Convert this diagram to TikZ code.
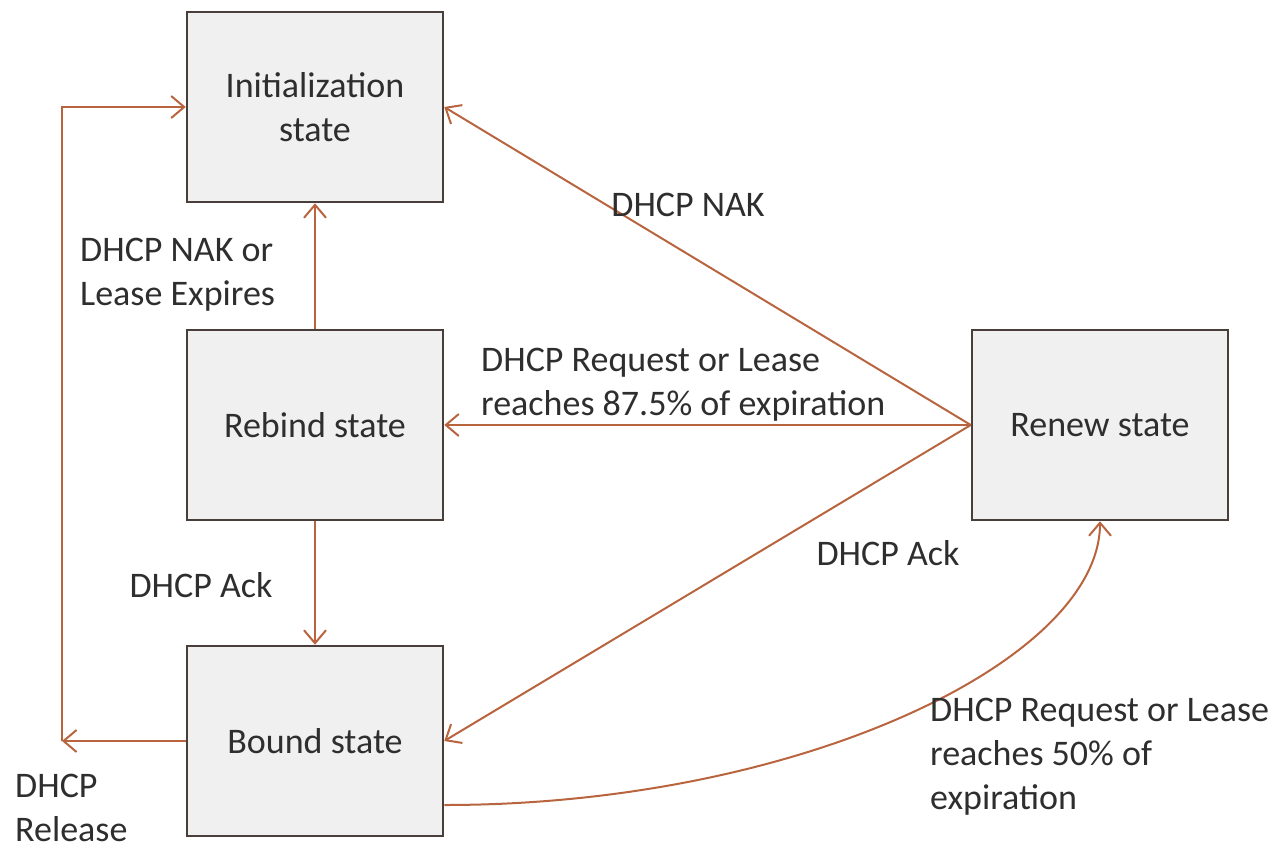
\documentclass[tikz,border=0pt]{standalone}
\usepackage{fontspec}
\setmainfont{Carlito}
\usetikzlibrary{arrows.meta}
\definecolor{arrowc}{HTML}{B8653F}
\definecolor{boxborder}{HTML}{4A3E3A}
\definecolor{boxfill}{HTML}{F0F0F1}
\definecolor{txt}{HTML}{2E2E2E}
\begin{document}
\begin{tikzpicture}[x=1pt,y=-1pt,
  statebox/.style={draw=boxborder, fill=boxfill, line width=2.5pt, minimum width=256pt, minimum height=190pt, inner sep=0pt, align=center, text=txt, font=\fontsize{36}{44}\selectfont},
  lbl/.style={inner sep=0pt, align=left, text=txt, font=\fontsize{36}{44}\selectfont},
  conn/.style={draw=arrowc, line width=2pt, -{Straight Barb[length=13pt,width=22pt,line width=2pt]}}
]
\useasboundingbox (0,0) rectangle (1282,849);
\node[statebox] (init) at (315,107) {Initialization\\state};
\node[statebox] (rebind) at (315,425) {Rebind state};
\node[statebox] (bound) at (315,741) {Bound state};
\node[statebox] (renew) at (1100,425) {Renew state};

\coordinate (rel) at (62,741);

\draw[conn] (bound.west) -- (rel);
\draw[conn] (rel) |- (init.west);
\draw[conn] (rebind.north) -- (init.south);
\draw[conn] (rebind.south) -- (bound.north);
\draw[conn] (renew.west) -- (rebind.east);
\draw[conn] (renew.west) -- (init.east);
\draw[conn] (renew.west) -- (bound.east);
\draw[conn] ([yshift=-64pt]bound.east) .. controls (800,805) and (1100,660) .. (renew.south);

\node[lbl] (nak) at (688,205) {DHCP NAK};
\node[lbl, anchor=west] (nakor) at (80,275) {DHCP NAK or\\Lease Expires};
\node[lbl, anchor=west] (req875) at (481,385) {DHCP Request or Lease\\reaches 87.5\% of expiration};
\node[lbl] (ackl) at (201,585) {DHCP Ack};
\node[lbl] (ackr) at (888,553) {DHCP Ack};
\node[lbl, anchor=west] (req50) at (930,757) {DHCP Request or Lease\\reaches 50\% of\\expiration};
\node[lbl, anchor=west] (release) at (15,808) {DHCP\\Release};
\end{tikzpicture}
\end{document}
